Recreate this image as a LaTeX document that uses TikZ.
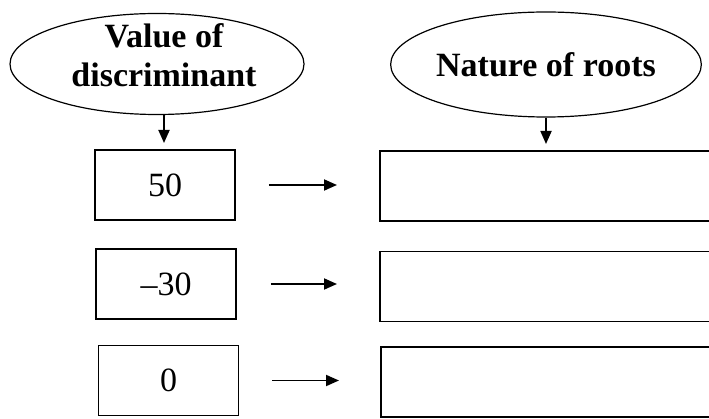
\documentclass[tikz,border=0pt]{standalone}
\usepackage{fontspec}
\setmainfont{Liberation Serif}
\usetikzlibrary{shapes.geometric,arrows.meta}
\tikzset{
  ell/.style={draw, ellipse, line width=1.2pt, inner sep=0pt},
  head/.style={font=\bfseries\fontsize{34}{39}\selectfont, inner sep=0pt, align=center},
  valbox/.style={draw, line width=1.6pt, minimum width=140pt, minimum height=70pt, inner sep=0pt, font=\fontsize{34}{38}\selectfont},
  ansbox/.style={draw, line width=1.6pt, minimum width=360pt, minimum height=70pt, inner sep=0pt, anchor=west},
  arr/.style={line width=1.8pt, -{Triangle[length=13pt,width=11pt]}}
}
\begin{document}
\begin{tikzpicture}[x=1pt,y=-1pt]
\useasboundingbox (0,0) rectangle (709,419);
\clip (0,0) rectangle (709,419);
% headers
\node[ell, minimum width=294pt, minimum height=101pt] (e1) at (157,64) {};
\node[head] (t1) at (164,55.5) {Value of\\discriminant};
\node[ell, head, minimum width=302pt, minimum height=105pt] (e2) at (546,64.5) {Nature of roots};
% value boxes
\node[valbox] (b1) at (165,185) {50};
\node[valbox] (b2) at (166,284) {\char"2013 30};
\node[valbox] (b3) at (168.5,380.5) {0};
% answer boxes
\node[ansbox] (r1) at (379,186) {};
\node[ansbox] (r2) at (379,286.5) {};
\node[ansbox] (r3) at (380,382) {};
% vertical arrows
\coordinate (a1) at (164,143);
\coordinate (a2) at (546,144);
\draw[arr] (e1.south -| a1) -- (a1);
\draw[arr] (e2.south) -- (a2);
% horizontal arrows
\draw[arr, shorten <=33pt, shorten >=42pt] (b1.east) -- (b1.east -| r1.west);
\draw[arr, shorten <=34pt, shorten >=42pt] (b2.east) -- (b2.east -| r2.west);
\draw[arr, shorten <=33pt, shorten >=41pt] (b3.east) -- (b3.east -| r3.west);
\end{tikzpicture}
\end{document}
